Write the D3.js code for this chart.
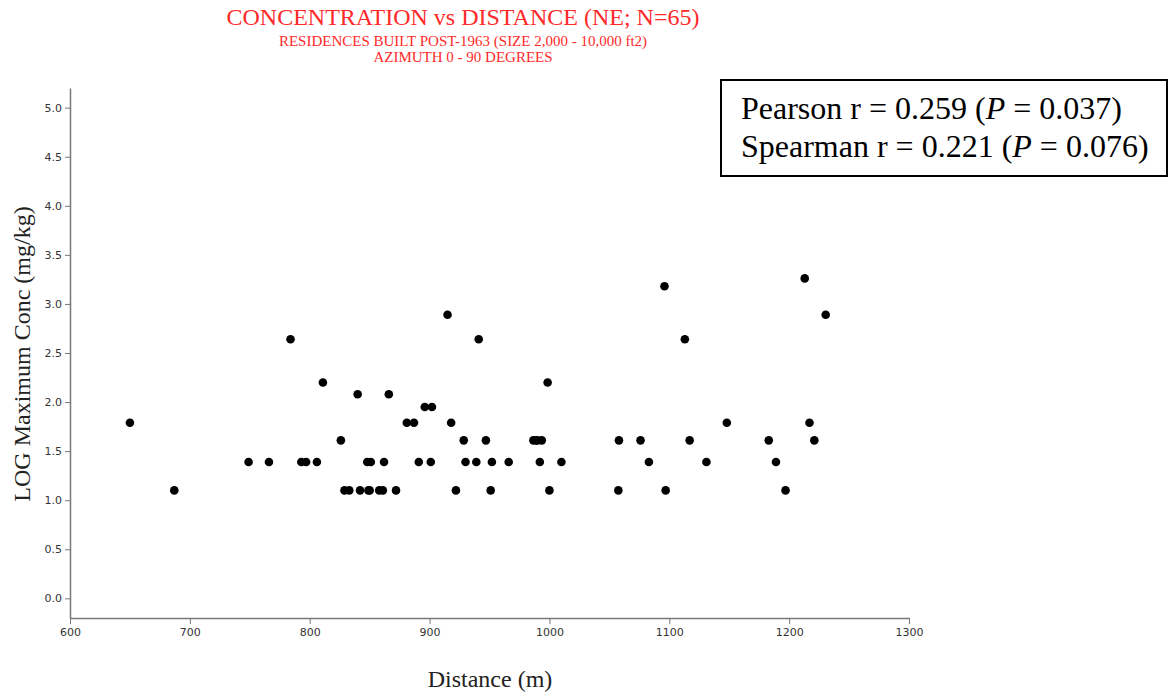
<!DOCTYPE html>
<html>
<head>
<meta charset="utf-8">
<script src="https://cdn.jsdelivr.net/npm/d3@7"></script>
<style>
  body { margin: 0; background: #fff; }
  .tick text { font-family: "DejaVu Sans", Verdana, sans-serif; font-size: 11px; fill: #333; }
</style>
</head>
<body>
<div id="chart"></div>
<script>
// distance (m) and LOG max concentration
var distance = [650, 687, 749, 766, 784, 793, 797, 806, 811, 826, 829, 833, 840, 842, 848, 851, 850, 858, 861, 862, 866, 872,
  915, 941, 1113, 998.5, 896, 902, 881, 887, 918, 928.5, 947, 986.6, 990, 993.6, 1058, 1076, 891, 901, 930, 939, 952, 966, 992, 1010, 1083,
  922, 951, 1000, 1057.5, 1097,
  1213, 1230.5, 1148, 1217, 1117, 1183, 1221, 1131, 1189, 1197, 1096, 849, 989];
var logConc = [1.79, 1.10, 1.39, 1.39, 2.64, 1.39, 1.39, 1.39, 2.20, 1.61, 1.10, 1.10, 2.08, 1.10, 1.39, 1.39, 1.10, 1.10, 1.10, 1.39, 2.08, 1.10,
  2.89, 2.64, 2.64, 2.20, 1.95, 1.95, 1.79, 1.79, 1.79, 1.61, 1.61, 1.61, 1.61, 1.61, 1.61, 1.61, 1.39, 1.39, 1.39, 1.39, 1.39, 1.39, 1.39, 1.39, 1.39,
  1.10, 1.10, 1.10, 1.10, 1.10,
  3.26, 2.89, 1.79, 1.79, 1.61, 1.61, 1.61, 1.39, 1.39, 1.10, 3.18, 1.10, 1.61];
var xTicks = [600, 700, 800, 900, 1000, 1100, 1200, 1300];
var yTicks = [0, 0.5, 1, 1.5, 2, 2.5, 3, 3.5, 4, 4.5, 5];
var titleLines = ["CONCENTRATION vs DISTANCE (NE; N=65)",
  "RESIDENCES BUILT POST-1963 (SIZE 2,000 - 10,000 ft2)",
  "AZIMUTH 0 - 90 DEGREES"];
var statLines = [["Pearson r = 0.259 (", "P", " = 0.037)"], ["Spearman r = 0.221 (", "P", " = 0.076)"]];

var width = 1172, height = 694;
var plotLeft = 70, plotRight = 909, plotTop = 88, plotBottom = 618;

var svg = d3.select("#chart").append("svg")
    .attr("width", width)
    .attr("height", height);

var x = d3.scaleLinear().domain([600, 1300]).range([plotLeft, plotRight]);
var y = d3.scaleLinear().domain([-0.2, 5.2]).range([plotBottom, plotTop]);

// axes
var xAxis = svg.append("g")
    .attr("transform", "translate(0," + plotBottom + ")")
    .call(d3.axisBottom(x).tickValues(xTicks).tickFormat(d3.format("d")).tickSize(6).tickPadding(4).tickSizeOuter(0));
var yAxis = svg.append("g")
    .attr("transform", "translate(" + plotLeft + ",0)")
    .call(d3.axisLeft(y).tickValues(yTicks).tickFormat(d3.format(".1f")).tickSize(5).tickPadding(3).tickSizeOuter(0));
[xAxis, yAxis].forEach(function(g) {
  g.select(".domain").attr("stroke", "#777").attr("stroke-width", 1.5);
  g.selectAll(".tick line").attr("stroke", "#777");
});

// points
svg.append("g").selectAll("circle")
    .data(distance)
    .enter()
    .append("circle")
    .attr("cx", function(d) { return x(d); })
    .attr("cy", function(d, i) { return y(logConc[i]); })
    .attr("r", 4.3)
    .attr("fill", "#000");

// titles
var serif = "'Liberation Serif', 'Times New Roman', serif";
svg.selectAll("text.title")
    .data(titleLines)
    .enter()
    .append("text")
    .attr("class", "title")
    .attr("x", 463)
    .attr("y", function(d, i) { return [25, 46, 62][i]; })
    .attr("text-anchor", "middle")
    .attr("font-family", serif)
    .attr("font-size", function(d, i) { return i == 0 ? "24px" : "15px"; })
    .attr("fill", "#ff2a2a")
    .text(function(d) { return d; });

svg.append("text")
    .attr("x", 490)
    .attr("y", 687)
    .attr("text-anchor", "middle")
    .attr("font-family", serif)
    .attr("font-size", "24px")
    .attr("fill", "#222")
    .text("Distance (m)");

svg.append("text")
    .attr("transform", "translate(30,354) rotate(-90)")
    .attr("text-anchor", "middle")
    .attr("font-family", serif)
    .attr("font-size", "24px")
    .attr("fill", "#222")
    .text("LOG Maximum Conc (mg/kg)");

// stats box
svg.append("rect")
    .attr("x", 721).attr("y", 80)
    .attr("width", 446).attr("height", 96)
    .attr("fill", "#fff")
    .attr("stroke", "#000")
    .attr("stroke-width", 2);

var stat = svg.selectAll("text.stat")
    .data(statLines)
    .enter()
    .append("text")
    .attr("class", "stat")
    .attr("x", 741)
    .attr("y", function(d, i) { return 119 + i * 38; })
    .attr("font-family", serif)
    .attr("font-size", "32px")
    .attr("fill", "#000");
stat.each(function(d) {
  var t = d3.select(this);
  d.forEach(function(part, j) {
    t.append("tspan").attr("font-style", j == 1 ? "italic" : "normal").text(part);
  });
});
</script>
</body>
</html>
